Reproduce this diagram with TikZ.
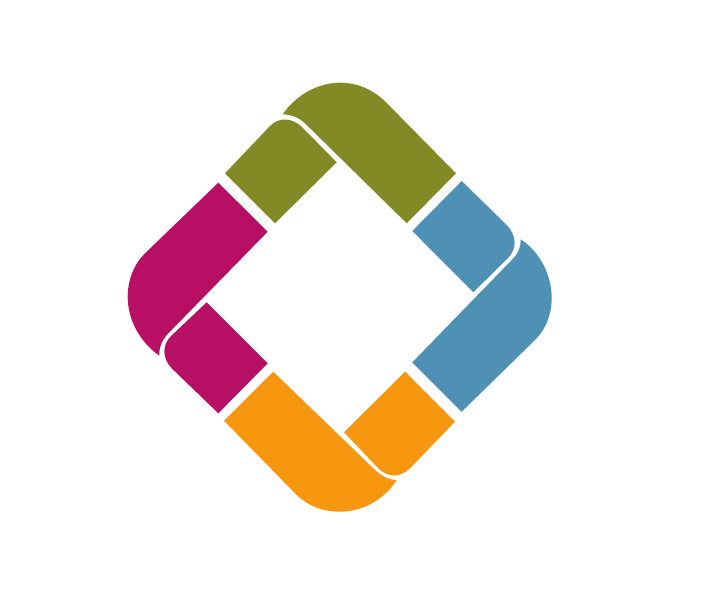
\documentclass[tikz,border=0pt]{standalone}
\definecolor{logoolive}{HTML}{828A26}
\definecolor{logoblue}{HTML}{4E91B4}
\definecolor{logoorange}{HTML}{F6970F}
\definecolor{logopink}{HTML}{B70F63}
\begin{document}
\begin{tikzpicture}[x=0.02cm, y=-0.02cm]
		%%%%% START %%%%%
		\useasboundingbox (0, 0) rectangle (726, 596);
		
		% top
		\fill[logoolive] (282.7, 114.3) .. controls (296, 95) and (318, 82.7) .. (340, 82.7) .. controls (358, 82.7) and (374, 90) .. (386.7, 103) -- (456, 173.3) -- (406.7, 223.3) -- (306.7, 125) .. controls (300, 118) and (292, 114.5) .. cycle;
		\fill[logoolive] (225, 173.3) -- (275, 223.3) -- (336.7, 162.3) -- (303, 128) .. controls (292, 117) and (279, 117) .. (270, 126) -- cycle;
		
		% right
		\fill[logoblue] (520.7, 239.3) .. controls (540, 252) and (551.7, 275) .. (551.7, 298.3) .. controls (551.7, 314) and (546, 329) .. (535, 340) -- (461.7, 411.7) -- (412.3, 362.3) -- (511.7, 260) .. controls (518, 254) and (521, 247) .. cycle;
		\fill[logoblue] (412.3, 231) -- (461.7, 181) -- (506.7, 225) .. controls (517, 236) and (517, 249) .. (508, 258) -- (473.3, 292.3) -- cycle;
		
		% bottom
		\fill[logoorange] (224, 420.7) -- (273.3, 371.7) -- (373.3, 468.3) .. controls (380, 475) and (388, 480) .. (396.7, 480) .. controls (384, 500) and (362, 511.7) .. (340, 511.7) .. controls (323, 511.7) and (308, 506) .. (296.7, 495) -- cycle;
		\fill[logoorange] (344, 432.3) -- (405, 371.7) -- (455, 421.7) -- (410, 468.3) .. controls (400, 478) and (388, 478) .. (378, 468) -- cycle;
		
		% left
		\fill[logopink] (218.3, 182.7) -- (267.7, 231.7) -- (168.3, 333.3) .. controls (162, 340) and (159, 347) .. (159.3, 355.7) .. controls (140, 342) and (127.7, 320) .. (127.7, 296.7) .. controls (127.7, 280) and (134, 264) .. (145, 253.3) -- cycle;
		\fill[logopink] (206.7, 302.3) -- (267.7, 363.3) -- (218.3, 413.3) -- (171.7, 368.3) .. controls (162, 358) and (162, 345) .. (171, 336) -- cycle;
		
		%%%%% END %%%%%
	\end{tikzpicture}
\end{document}
